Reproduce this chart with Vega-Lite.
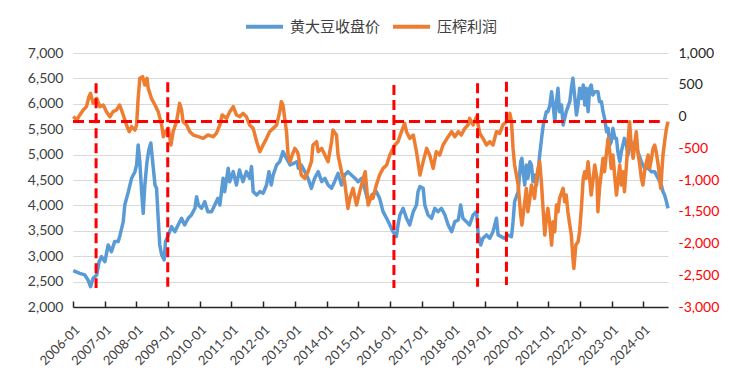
{
  "$schema": "https://vega.github.io/schema/vega-lite/v6.json",
  "width": 595,
  "height": 254,
  "autosize": {"type": "none"},
  "padding": {"left": 73, "top": 53, "right": 72, "bottom": 77},
  "background": "white",
  "config": {"view": {"stroke": null}, "legend": {"layout": {"top": {"anchor": "middle"}}}},
  "datasets": {
    "price": [
      {"d":"2006-01-04","v":2716},{"d":"2006-03-20","v":2663},{"d":"2006-05-17","v":2631},{"d":"2006-06-23","v":2532},
      {"d":"2006-07-22","v":2401},{"d":"2006-08-21","v":2565},{"d":"2006-10-01","v":2631},{"d":"2006-10-29","v":2893},
      {"d":"2006-11-25","v":2991},{"d":"2007-01-04","v":2893},{"d":"2007-02-10","v":3221},{"d":"2007-03-20","v":3090},
      {"d":"2007-04-26","v":3287},{"d":"2007-06-05","v":3287},{"d":"2007-06-23","v":3385},{"d":"2007-08-03","v":3680},
      {"d":"2007-08-21","v":4008},{"d":"2007-10-01","v":4271},{"d":"2007-11-07","v":4533},{"d":"2007-12-16","v":4664},
      {"d":"2008-01-04","v":4795},{"d":"2008-01-22","v":5189},{"d":"2008-02-10","v":4861},{"d":"2008-03-02","v":4271},
      {"d":"2008-03-20","v":3844},{"d":"2008-04-08","v":4402},{"d":"2008-05-03","v":4861},{"d":"2008-05-25","v":5100},
      {"d":"2008-06-16","v":5230},{"d":"2008-07-11","v":4795},{"d":"2008-08-03","v":4402},{"d":"2008-08-21","v":4336},
      {"d":"2008-09-09","v":3746},{"d":"2008-09-27","v":3221},{"d":"2008-10-19","v":3024},{"d":"2008-11-17","v":2926},
      {"d":"2008-12-02","v":3287},{"d":"2009-01-04","v":3418},{"d":"2009-02-10","v":3582},{"d":"2009-03-20","v":3483},
      {"d":"2009-04-26","v":3614},{"d":"2009-06-05","v":3746},{"d":"2009-07-11","v":3614},{"d":"2009-08-21","v":3746},
      {"d":"2009-09-27","v":3812},{"d":"2009-11-07","v":3943},{"d":"2009-11-25","v":4172},{"d":"2009-12-16","v":4008},
      {"d":"2010-01-22","v":3943},{"d":"2010-02-28","v":4074},{"d":"2010-04-04","v":3877},{"d":"2010-05-17","v":3877},
      {"d":"2010-06-23","v":4008},{"d":"2010-07-29","v":4139},{"d":"2010-08-21","v":4008},{"d":"2010-09-27","v":4533},
      {"d":"2010-10-15","v":4271},{"d":"2010-11-25","v":4730},{"d":"2010-12-13","v":4467},{"d":"2011-01-22","v":4664},
      {"d":"2011-02-28","v":4402},{"d":"2011-04-04","v":4697},{"d":"2011-05-14","v":4467},{"d":"2011-06-23","v":4664},
      {"d":"2011-07-29","v":4533},{"d":"2011-08-21","v":4763},{"d":"2011-09-09","v":4271},{"d":"2011-10-19","v":4205},
      {"d":"2011-11-25","v":4271},{"d":"2012-01-01","v":4238},{"d":"2012-02-10","v":4402},{"d":"2012-03-09","v":4664},
      {"d":"2012-04-04","v":4402},{"d":"2012-04-26","v":4599},{"d":"2012-06-05","v":4795},{"d":"2012-07-11","v":4861},
      {"d":"2012-08-17","v":5058},{"d":"2012-09-27","v":4927},{"d":"2012-11-07","v":4795},{"d":"2012-12-16","v":4828},
      {"d":"2013-01-29","v":4861},{"d":"2013-02-10","v":4730},{"d":"2013-03-16","v":4795},{"d":"2013-04-26","v":4664},
      {"d":"2013-06-02","v":4533},{"d":"2013-07-11","v":4336},{"d":"2013-08-17","v":4533},{"d":"2013-09-27","v":4664},
      {"d":"2013-11-07","v":4467},{"d":"2013-12-13","v":4533},{"d":"2014-01-19","v":4402},{"d":"2014-02-28","v":4336},
      {"d":"2014-04-04","v":4467},{"d":"2014-05-14","v":4631},{"d":"2014-06-23","v":4402},{"d":"2014-07-29","v":4599},
      {"d":"2014-09-05","v":4664},{"d":"2014-10-15","v":4599},{"d":"2014-11-25","v":4533},{"d":"2015-01-01","v":4467},
      {"d":"2015-02-10","v":4533},{"d":"2015-03-16","v":4336},{"d":"2015-04-26","v":4074},{"d":"2015-06-09","v":4205},
      {"d":"2015-07-29","v":4271},{"d":"2015-09-05","v":4139},{"d":"2015-10-15","v":3877},{"d":"2015-11-25","v":3746},
      {"d":"2016-01-01","v":3614},{"d":"2016-02-07","v":3483},{"d":"2016-03-16","v":3385},{"d":"2016-04-04","v":3614},
      {"d":"2016-04-26","v":3812},{"d":"2016-06-02","v":3943},{"d":"2016-07-11","v":3746},{"d":"2016-08-17","v":3614},
      {"d":"2016-09-27","v":3877},{"d":"2016-11-03","v":4008},{"d":"2016-11-21","v":4271},{"d":"2016-12-13","v":4369},
      {"d":"2017-01-19","v":4336},{"d":"2017-02-07","v":4008},{"d":"2017-03-16","v":3812},{"d":"2017-04-26","v":3746},
      {"d":"2017-06-02","v":3943},{"d":"2017-07-08","v":3877},{"d":"2017-08-17","v":3943},{"d":"2017-09-27","v":3812},
      {"d":"2017-11-03","v":3614},{"d":"2017-12-13","v":3483},{"d":"2018-01-19","v":3680},{"d":"2018-02-28","v":3713},
      {"d":"2018-03-27","v":4008},{"d":"2018-04-22","v":3746},{"d":"2018-06-02","v":3680},{"d":"2018-07-08","v":3614},
      {"d":"2018-08-17","v":3812},{"d":"2018-09-27","v":3877},{"d":"2018-10-15","v":3418},{"d":"2018-11-14","v":3221},
      {"d":"2018-12-09","v":3352},{"d":"2019-01-19","v":3418},{"d":"2019-02-25","v":3352},{"d":"2019-04-04","v":3483},
      {"d":"2019-05-14","v":3746},{"d":"2019-06-02","v":3418},{"d":"2019-07-08","v":3385},{"d":"2019-08-17","v":3352},
      {"d":"2019-09-23","v":3418},{"d":"2019-11-03","v":3385},{"d":"2019-11-21","v":3680},{"d":"2019-12-09","v":4074},
      {"d":"2020-01-19","v":4271},{"d":"2020-02-17","v":4861},{"d":"2020-03-02","v":4927},{"d":"2020-03-16","v":4664},
      {"d":"2020-04-04","v":4402},{"d":"2020-04-22","v":4795},{"d":"2020-05-10","v":4533},{"d":"2020-06-02","v":4861},
      {"d":"2020-06-20","v":4795},{"d":"2020-07-08","v":4467},{"d":"2020-07-26","v":4599},{"d":"2020-08-17","v":4402},
      {"d":"2020-09-05","v":4664},{"d":"2020-09-23","v":4992},{"d":"2020-10-15","v":5320},{"d":"2020-11-03","v":5583},
      {"d":"2020-11-21","v":5714},{"d":"2020-12-09","v":5845},{"d":"2020-12-27","v":5845},{"d":"2021-01-19","v":5976},
      {"d":"2021-02-07","v":6239},{"d":"2021-02-25","v":5976},{"d":"2021-03-16","v":5648},{"d":"2021-04-04","v":6042},
      {"d":"2021-04-22","v":6304},{"d":"2021-05-10","v":5845},{"d":"2021-06-02","v":5976},{"d":"2021-06-20","v":5583},
      {"d":"2021-07-26","v":5845},{"d":"2021-09-05","v":6042},{"d":"2021-09-23","v":6304},{"d":"2021-10-11","v":6501},
      {"d":"2021-11-03","v":6107},{"d":"2021-11-21","v":5779},{"d":"2021-12-09","v":5976},{"d":"2021-12-27","v":6304},
      {"d":"2022-01-19","v":6107},{"d":"2022-02-07","v":6370},{"d":"2022-02-25","v":5976},{"d":"2022-03-13","v":6304},
      {"d":"2022-04-04","v":5845},{"d":"2022-04-22","v":6304},{"d":"2022-05-10","v":6370},{"d":"2022-05-28","v":6173},
      {"d":"2022-06-20","v":6239},{"d":"2022-07-26","v":6239},{"d":"2022-08-14","v":6042},{"d":"2022-09-05","v":6042},
      {"d":"2022-09-23","v":5845},{"d":"2022-10-11","v":5714},{"d":"2022-11-03","v":5451},{"d":"2022-11-21","v":5517},
      {"d":"2022-12-09","v":5189},{"d":"2022-12-27","v":5255},{"d":"2023-01-15","v":5517},{"d":"2023-02-07","v":5320},
      {"d":"2023-02-25","v":5320},{"d":"2023-03-13","v":5058},{"d":"2023-04-04","v":4861},{"d":"2023-04-22","v":5058},
      {"d":"2023-05-28","v":5320},{"d":"2023-06-20","v":5189},{"d":"2023-07-08","v":4992},{"d":"2023-07-26","v":5189},
      {"d":"2023-08-14","v":5123},{"d":"2023-09-23","v":5255},{"d":"2023-10-29","v":5058},{"d":"2023-12-09","v":4861},
      {"d":"2024-01-15","v":4730},{"d":"2024-02-25","v":4730},{"d":"2024-04-04","v":4664},{"d":"2024-05-10","v":4664},
      {"d":"2024-06-20","v":4533},{"d":"2024-07-26","v":4402},{"d":"2024-08-14","v":4271},{"d":"2024-09-02","v":4205},
      {"d":"2024-09-23","v":4074},{"d":"2024-10-11","v":3943}
    ],
    "margin": [
      {"d":"2006-01-04","v":0},{"d":"2006-02-14","v":-55},{"d":"2006-03-20","v":24},{"d":"2006-04-29","v":102},
      {"d":"2006-06-05","v":155},{"d":"2006-07-04","v":312},{"d":"2006-07-22","v":365},{"d":"2006-08-21","v":207},
      {"d":"2006-10-01","v":286},{"d":"2006-11-07","v":155},{"d":"2006-12-16","v":181},{"d":"2007-01-22","v":76},
      {"d":"2007-03-02","v":-3},{"d":"2007-04-08","v":76},{"d":"2007-05-17","v":102},{"d":"2007-06-23","v":181},
      {"d":"2007-08-03","v":24},{"d":"2007-09-09","v":-134},{"d":"2007-10-11","v":-239},{"d":"2007-11-07","v":-160},
      {"d":"2007-12-16","v":-213},{"d":"2008-01-04","v":-134},{"d":"2008-01-22","v":286},{"d":"2008-02-10","v":601},
      {"d":"2008-03-13","v":627},{"d":"2008-04-08","v":496},{"d":"2008-05-03","v":601},{"d":"2008-05-17","v":444},
      {"d":"2008-06-23","v":286},{"d":"2008-08-03","v":181},{"d":"2008-09-09","v":76},{"d":"2008-10-19","v":-134},
      {"d":"2008-11-07","v":-318},{"d":"2008-12-02","v":-239},{"d":"2009-01-04","v":-187},{"d":"2009-02-03","v":-449},
      {"d":"2009-02-28","v":-239},{"d":"2009-04-08","v":-82},{"d":"2009-05-14","v":207},{"d":"2009-06-05","v":102},
      {"d":"2009-06-23","v":-82},{"d":"2009-08-03","v":-134},{"d":"2009-09-09","v":-239},{"d":"2009-10-19","v":-292},
      {"d":"2009-12-16","v":-318},{"d":"2010-02-10","v":-344},{"d":"2010-04-04","v":-292},{"d":"2010-06-05","v":-318},
      {"d":"2010-07-11","v":-265},{"d":"2010-08-21","v":-134},{"d":"2010-09-16","v":24},{"d":"2010-11-07","v":-29},
      {"d":"2010-12-13","v":76},{"d":"2011-01-22","v":155},{"d":"2011-02-28","v":24},{"d":"2011-04-08","v":-3},
      {"d":"2011-05-14","v":50},{"d":"2011-06-23","v":-3},{"d":"2011-07-29","v":-134},{"d":"2011-09-09","v":-187},
      {"d":"2011-10-19","v":-397},{"d":"2011-11-25","v":-554},{"d":"2012-01-01","v":-449},{"d":"2012-02-10","v":-344},
      {"d":"2012-03-16","v":-239},{"d":"2012-04-26","v":-187},{"d":"2012-06-05","v":-134},{"d":"2012-07-11","v":76},
      {"d":"2012-07-29","v":234},{"d":"2012-08-17","v":181},{"d":"2012-09-27","v":-239},{"d":"2012-10-15","v":-607},
      {"d":"2012-11-07","v":-712},{"d":"2012-11-25","v":-633},{"d":"2013-01-01","v":-502},{"d":"2013-01-29","v":-554},
      {"d":"2013-02-10","v":-607},{"d":"2013-03-16","v":-922},{"d":"2013-04-26","v":-974},{"d":"2013-06-02","v":-869},
      {"d":"2013-07-11","v":-712},{"d":"2013-07-29","v":-449},{"d":"2013-09-09","v":-397},{"d":"2013-09-27","v":-554},
      {"d":"2013-11-07","v":-502},{"d":"2013-12-13","v":-607},{"d":"2014-01-19","v":-712},{"d":"2014-02-28","v":-397},
      {"d":"2014-03-16","v":-213},{"d":"2014-04-26","v":-292},{"d":"2014-05-14","v":-607},{"d":"2014-06-23","v":-869},
      {"d":"2014-07-29","v":-1027},{"d":"2014-09-05","v":-1447},{"d":"2014-09-27","v":-1289},{"d":"2014-11-03","v":-1132},
      {"d":"2014-12-13","v":-1394},{"d":"2015-01-19","v":-1184},{"d":"2015-02-28","v":-974},{"d":"2015-03-23","v":-869},
      {"d":"2015-04-26","v":-1394},{"d":"2015-06-09","v":-1237},{"d":"2015-06-20","v":-1289},{"d":"2015-07-29","v":-1079},
      {"d":"2015-09-05","v":-922},{"d":"2015-10-15","v":-817},{"d":"2015-11-25","v":-764},{"d":"2016-01-01","v":-607},
      {"d":"2016-01-19","v":-554},{"d":"2016-02-28","v":-449},{"d":"2016-04-04","v":-397},{"d":"2016-05-14","v":-239},
      {"d":"2016-06-20","v":-108},{"d":"2016-07-11","v":-239},{"d":"2016-08-17","v":-344},{"d":"2016-09-27","v":-292},
      {"d":"2016-11-03","v":-554},{"d":"2016-12-13","v":-922},{"d":"2017-01-19","v":-712},{"d":"2017-02-28","v":-502},
      {"d":"2017-04-04","v":-607},{"d":"2017-05-14","v":-817},{"d":"2017-06-20","v":-554},{"d":"2017-07-29","v":-607},
      {"d":"2017-09-05","v":-449},{"d":"2017-10-22","v":-344},{"d":"2017-12-13","v":-239},{"d":"2018-01-19","v":-318},
      {"d":"2018-02-28","v":-239},{"d":"2018-04-04","v":-292},{"d":"2018-05-14","v":-187},{"d":"2018-06-20","v":-134},
      {"d":"2018-07-08","v":-29},{"d":"2018-08-17","v":-134},{"d":"2018-09-27","v":-3},{"d":"2018-10-15","v":-134},
      {"d":"2018-11-03","v":-265},{"d":"2018-12-09","v":-344},{"d":"2019-01-19","v":-449},{"d":"2019-02-25","v":-397},
      {"d":"2019-04-04","v":-449},{"d":"2019-05-14","v":-239},{"d":"2019-06-20","v":-265},{"d":"2019-07-26","v":-134},
      {"d":"2019-09-05","v":-82},{"d":"2019-10-15","v":50},{"d":"2019-11-03","v":-82},{"d":"2019-11-21","v":-502},
      {"d":"2019-12-09","v":-764},{"d":"2020-01-19","v":-1079},{"d":"2020-02-17","v":-1552},{"d":"2020-03-02","v":-1709},
      {"d":"2020-04-04","v":-1342},{"d":"2020-04-22","v":-1132},{"d":"2020-05-10","v":-1499},{"d":"2020-06-02","v":-1289},
      {"d":"2020-06-20","v":-1079},{"d":"2020-07-08","v":-1184},{"d":"2020-07-26","v":-1289},{"d":"2020-08-17","v":-974},
      {"d":"2020-09-05","v":-817},{"d":"2020-09-23","v":-712},{"d":"2020-10-15","v":-1079},{"d":"2020-11-03","v":-1499},
      {"d":"2020-11-21","v":-1867},{"d":"2020-12-09","v":-1604},{"d":"2020-12-27","v":-1447},{"d":"2021-01-19","v":-1709},
      {"d":"2021-02-07","v":-2024},{"d":"2021-02-25","v":-1657},{"d":"2021-03-16","v":-1814},{"d":"2021-04-04","v":-1394},
      {"d":"2021-04-22","v":-1499},{"d":"2021-05-10","v":-1289},{"d":"2021-06-20","v":-1132},{"d":"2021-07-08","v":-1342},
      {"d":"2021-07-26","v":-1237},{"d":"2021-08-14","v":-1499},{"d":"2021-09-05","v":-1709},{"d":"2021-09-23","v":-1867},
      {"d":"2021-10-11","v":-2234},{"d":"2021-10-22","v":-2392},{"d":"2021-11-14","v":-2024},{"d":"2021-12-09","v":-1972},
      {"d":"2021-12-27","v":-1814},{"d":"2022-01-19","v":-1394},{"d":"2022-02-07","v":-974},{"d":"2022-02-25","v":-869},
      {"d":"2022-03-13","v":-974},{"d":"2022-04-04","v":-712},{"d":"2022-04-22","v":-974},{"d":"2022-05-10","v":-1237},
      {"d":"2022-05-28","v":-1027},{"d":"2022-06-20","v":-764},{"d":"2022-07-15","v":-974},{"d":"2022-07-26","v":-1499},
      {"d":"2022-08-14","v":-1132},{"d":"2022-09-05","v":-869},{"d":"2022-09-23","v":-659},{"d":"2022-10-11","v":-869},
      {"d":"2022-11-03","v":-554},{"d":"2022-11-21","v":-344},{"d":"2022-12-09","v":-554},{"d":"2022-12-27","v":-817},
      {"d":"2023-01-15","v":-607},{"d":"2023-02-07","v":-974},{"d":"2023-02-25","v":-1237},{"d":"2023-03-13","v":-1027},
      {"d":"2023-04-04","v":-764},{"d":"2023-04-22","v":-1079},{"d":"2023-05-10","v":-869},{"d":"2023-05-28","v":-1184},
      {"d":"2023-06-20","v":-764},{"d":"2023-07-08","v":-397},{"d":"2023-07-26","v":-82},{"d":"2023-08-14","v":-449},
      {"d":"2023-09-05","v":-659},{"d":"2023-09-23","v":-449},{"d":"2023-10-11","v":-239},{"d":"2023-10-29","v":-554},
      {"d":"2023-11-21","v":-764},{"d":"2023-12-09","v":-974},{"d":"2023-12-27","v":-1079},{"d":"2024-01-15","v":-869},
      {"d":"2024-02-07","v":-712},{"d":"2024-02-25","v":-607},{"d":"2024-03-13","v":-817},{"d":"2024-04-04","v":-659},
      {"d":"2024-04-22","v":-502},{"d":"2024-05-10","v":-449},{"d":"2024-05-28","v":-554},{"d":"2024-06-20","v":-764},
      {"d":"2024-07-08","v":-974},{"d":"2024-07-19","v":-1132},{"d":"2024-08-14","v":-607},{"d":"2024-09-02","v":-397},
      {"d":"2024-09-23","v":-187},{"d":"2024-10-11","v":-82}
    ],
    "vrules": [
      {"d":"2006-09-24","top":523,"bottom":-2701},
      {"d":"2008-12-28","top":538,"bottom":-2680},
      {"d":"2016-02-17","top":496,"bottom":-2701},
      {"d":"2018-10-08","top":523,"bottom":-2680},
      {"d":"2019-09-06","top":549,"bottom":-2654}
    ],
    "hrule": [
      {"start":"2006-01-01","end":"2024-07-08","v":-80}
    ]
  },
  "layer": [
    {
      "data": {"name": "price"},
      "mark": {"type": "line", "strokeWidth": 3.5, "strokeJoin": "round"},
      "encoding": {
        "x": {
          "field": "d", "type": "temporal",
          "scale": {"domain": [{"year": 2006, "month": 1, "date": 1}, {"year": 2024, "month": 10, "date": 11}]},
          "axis": {
            "title": null, "format": "%Y-%m", "tickCount": {"interval": "year", "step": 1},
            "labelAngle": -45, "labelFont": "Lato", "labelFontSize": 13, "labelColor": "#404040",
            "labelOverlap": false, "labelFlush": false, "labelPadding": 22,
            "domainColor": "#262626", "domainWidth": 1.5, "tickColor": "#262626", "tickWidth": 1.5, "tickSize": -6,
            "grid": false
          }
        },
        "y": {
          "field": "v", "type": "quantitative",
          "scale": {"domain": [2000, 7000], "nice": false, "zero": false},
          "axis": {
            "title": null, "values": [2000, 2500, 3000, 3500, 4000, 4500, 5000, 5500, 6000, 6500, 7000],
            "format": ",d", "labelFont": "Lato", "labelFontSize": 14, "labelColor": "#404040", "labelPadding": 10,
            "labelOverlap": false,
            "domain": false, "ticks": false, "grid": true, "gridColor": "#D9D9D9", "gridWidth": 1.2
          }
        },
        "color": {
          "datum": "黄大豆收盘价",
          "scale": {"domain": ["黄大豆收盘价", "压榨利润"], "range": ["#5B9BD5", "#ED7D31"]},
          "legend": {
            "title": null, "orient": "top", "direction": "horizontal", "offset": 18,
            "symbolType": "stroke", "symbolStrokeWidth": 4, "symbolSize": 1369,
            "labelFont": "Noto Sans CJK SC", "labelFontSize": 15, "labelColor": "#404040",
            "columnPadding": 4, "labelOffset": 5
          }
        }
      }
    },
    {
      "layer": [
        {
          "data": {"name": "margin"},
          "mark": {"type": "line", "strokeWidth": 3.5, "strokeJoin": "round"},
          "encoding": {
            "x": {"field": "d", "type": "temporal"},
            "y": {
              "field": "v", "type": "quantitative",
              "scale": {"domain": [-3000, 1000], "nice": false, "zero": false},
              "axis": {
                "title": null, "orient": "right",
                "values": [-3000, -2500, -2000, -1500, -1000, -500, 0, 500, 1000],
                "labelExpr": "(datum.value < 0 ? '-' : '') + format(abs(datum.value), ',d')",
                "labelFont": "Lato", "labelFontSize": 14, "labelPadding": 10, "labelOverlap": false,
                "labelColor": {"condition": {"test": "datum.value < 0", "value": "#FF0000"}, "value": "#262626"},
                "domain": false, "ticks": false, "grid": false
              }
            },
            "color": {"datum": "压榨利润"}
          }
        },
        {
          "data": {"name": "vrules"},
          "mark": {"type": "rule", "color": "#FF0000", "strokeWidth": 3, "strokeDash": [10, 5]},
          "encoding": {
            "x": {"field": "d", "type": "temporal"},
            "y": {
              "field": "top", "type": "quantitative",
              "axis": {
                "title": null, "orient": "right",
                "values": [-3000, -2500, -2000, -1500, -1000, -500, 0, 500, 1000],
                "labelExpr": "(datum.value < 0 ? '-' : '') + format(abs(datum.value), ',d')",
                "labelFont": "Lato", "labelFontSize": 14, "labelPadding": 10, "labelOverlap": false,
                "labelColor": {"condition": {"test": "datum.value < 0", "value": "#FF0000"}, "value": "#262626"},
                "domain": false, "ticks": false, "grid": false
              }
            },
            "y2": {"field": "bottom"}
          }
        },
        {
          "data": {"name": "hrule"},
          "mark": {"type": "rule", "color": "#FF0000", "strokeWidth": 3, "strokeDash": [11, 5]},
          "encoding": {
            "x": {"field": "start", "type": "temporal"},
            "x2": {"field": "end"},
            "y": {
              "field": "v", "type": "quantitative",
              "axis": {
                "title": null, "orient": "right",
                "values": [-3000, -2500, -2000, -1500, -1000, -500, 0, 500, 1000],
                "labelExpr": "(datum.value < 0 ? '-' : '') + format(abs(datum.value), ',d')",
                "labelFont": "Lato", "labelFontSize": 14, "labelPadding": 10, "labelOverlap": false,
                "labelColor": {"condition": {"test": "datum.value < 0", "value": "#FF0000"}, "value": "#262626"},
                "domain": false, "ticks": false, "grid": false
              }
            }
          }
        }
      ]
    }
  ],
  "resolve": {"scale": {"y": "independent"}}
}
